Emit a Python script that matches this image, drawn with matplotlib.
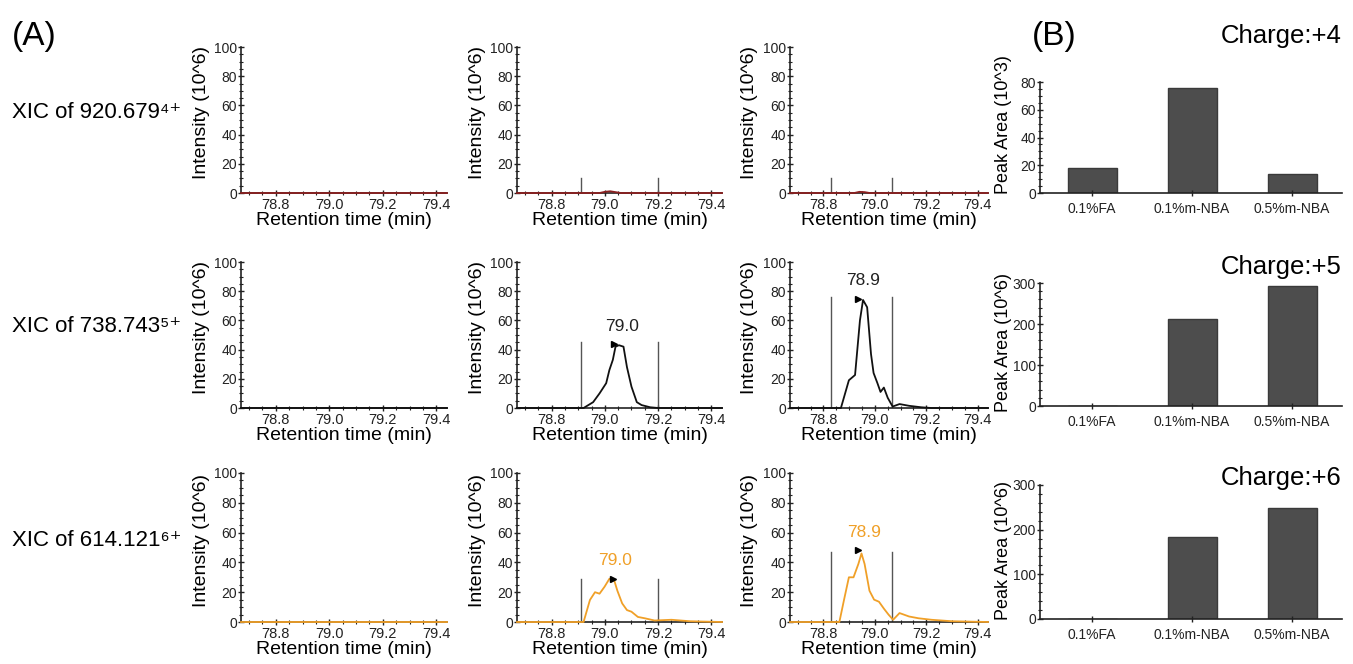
import matplotlib
matplotlib.use('Agg')
import matplotlib.pyplot as plt
from matplotlib.ticker import MultipleLocator

plt.rcParams['font.family'] = ['Liberation Sans', 'DejaVu Sans']

# ---- data ----
row_labels = ['XIC of 920.679⁴⁺', 'XIC of 738.743⁵⁺', 'XIC of 614.121⁶⁺']
rt_range = [78.67, 79.44]

# charge +4 : nothing detected
t_4_fa = [78.67, 79.44]
i_4_fa = [0, 0]
t_4_01 = [78.67, 78.98, 79.00, 79.02, 79.04, 79.06, 79.44]
i_4_01 = [0, 0, 0.8, 1.2, 0.6, 0, 0]
t_4_05 = [78.67, 78.92, 78.94, 78.96, 78.98, 79.44]
i_4_05 = [0, 0, 0.8, 0.6, 0, 0]

# charge +5
t_5_fa = [78.67, 79.44]
i_5_fa = [0, 0]
t_5_01 = [78.67, 78.92, 78.956, 78.98, 79.005, 79.017, 79.03, 79.04, 79.053, 79.07,
          79.083, 79.10, 79.12, 79.138, 79.17, 79.20, 79.44]
i_5_01 = [0, 0, 4, 10, 17, 26, 33, 42, 43, 42, 28, 14.6, 4, 2, 0.5, 0, 0]
t_5_05 = [78.67, 78.868, 78.899, 78.923, 78.942, 78.954, 78.97, 78.985, 78.995, 79.01,
          79.022, 79.035, 79.05, 79.069, 79.096, 79.133, 79.18, 79.22, 79.44]
i_5_05 = [0, 0, 19, 22.6, 60, 74, 69, 37, 24, 17, 11, 14, 7, 1, 2.7, 1.5, 0.5, 0, 0]

# charge +6
t_6_fa = [78.67, 79.44]
i_6_fa = [0, 0]
t_6_01 = [78.67, 78.92, 78.944, 78.963, 78.98, 78.999, 79.017, 79.035, 79.047, 79.065,
          79.083, 79.10, 79.124, 79.15, 79.187, 79.25, 79.32, 79.44]
i_6_01 = [0, 0, 14.8, 20, 19, 23.7, 29, 28, 21, 12.5, 8, 6.9, 3.4, 2.5, 1, 1.5, 0.5, 0]
t_6_05 = [78.67, 78.862, 78.88, 78.899, 78.917, 78.936, 78.948, 78.96, 78.979, 78.997,
          79.016, 79.035, 79.053, 79.071, 79.096, 79.133, 79.17, 79.22, 79.30, 79.44]
i_6_05 = [0, 0, 14.8, 30, 30, 39, 46, 39, 21, 15, 13.6, 9, 5, 1.5, 6, 3.7, 2.5, 1.5, 0.5, 0]

# integration boundaries (start, end, drawn height)
bounds = [
    [None, (78.91, 79.20, 10), (78.83, 79.065, 10)],
    [None, (78.91, 79.20, 45), (78.83, 79.065, 76)],
    [None, (78.91, 79.20, 29), (78.83, 79.066, 47)],
]
# apex labels (text, text x, text y, apex x, apex y)
apex = [
    [None, None, None],
    [None, ('79.0', 79.065, 51, 79.035, 44), ('78.9', 78.955, 82, 78.935, 75)],
    [None, ('79.0', 79.04, 36, 79.03, 29), ('78.9', 78.957, 55, 78.935, 48)],
]

traces = [
    [(t_4_fa, i_4_fa), (t_4_01, i_4_01), (t_4_05, i_4_05)],
    [(t_5_fa, i_5_fa), (t_5_01, i_5_01), (t_5_05, i_5_05)],
    [(t_6_fa, i_6_fa), (t_6_01, i_6_01), (t_6_05, i_6_05)],
]
trace_colors = ['#8b2020', '#111111', '#f0a028']
label_colors = ['#111111', '#222222', '#f0a028']

conditions = ['0.1%FA', '0.1%m-NBA', '0.5%m-NBA']
area_4 = [18.2, 75.5, 13.7]
area_5 = [0, 212, 293]
area_6 = [0, 184, 249]
areas = [area_4, area_5, area_6]
area_units = ['Peak Area (10^3)', 'Peak Area (10^6)', 'Peak Area (10^6)']
charge_titles = ['Charge:+4', 'Charge:+5', 'Charge:+6']
area_max = [80, 300, 300]
area_major = [20, 100, 100]
area_minor = [5, 20, 20]

# ---- layout in pixels ----
W, H = 1353, 664
row_px = [(47, 193), (262, 408), (473, 622)]
col_px = [(241, 447), (517, 722), (790, 988)]
bar_x = (1040, 1342)
bar_rows = [(82, 193), (283, 406), (485, 619)]


def px_axes(fig, x0, x1, ytop, ybot):
    return fig.add_axes([x0 / W, 1 - ybot / H, (x1 - x0) / W, (ybot - ytop) / H])


fig = plt.figure(figsize=(13.53, 6.64), dpi=100)
spine_c = '#222222'

for r in range(3):
    for c in range(3):
        ax = px_axes(fig, col_px[c][0], col_px[c][1], row_px[r][0], row_px[r][1])
        t, y = traces[r][c]
        ax.plot(t, y, color=trace_colors[r], lw=1.3, clip_on=False, zorder=3)
        b = bounds[r][c]
        if b is not None:
            for xb in b[:2]:
                ax.plot([xb, xb], [0, b[2]], color='#555555', lw=1.0, zorder=2)
        a = apex[r][c]
        if a is not None:
            ax.text(a[1], a[2], a[0], ha='center', va='bottom', fontsize=12.5,
                    color=label_colors[r])
            ax.plot(a[3], a[4], marker='>', ms=4, color='k', zorder=4)
        ax.set_xlim(rt_range)
        ax.set_ylim(0, 100)
        ax.yaxis.set_major_locator(MultipleLocator(20))
        ax.yaxis.set_minor_locator(MultipleLocator(5))
        ax.xaxis.set_minor_locator(MultipleLocator(0.05))
        ax.set_xticks([78.8, 79.0, 79.2, 79.4])
        ax.set_xticklabels(['78.8', '79.0', '79.2', '79.4'], color='#333333')
        for s in ['top', 'right']:
            ax.spines[s].set_visible(False)
        for s in ['left', 'bottom']:
            ax.spines[s].set_color(spine_c)
            ax.spines[s].set_linewidth(1.2)
        ax.tick_params(which='major', direction='inout', length=5, width=1,
                       labelsize=10.5, pad=1, colors=spine_c)
        ax.tick_params(axis='y', labelsize=10, pad=0.5)
        ax.tick_params(which='minor', direction='inout', length=3, width=0.8,
                       colors=spine_c)
        ax.set_xlabel('Retention time (min)', fontsize=14)
        ax.xaxis.set_label_coords(0.5, -0.13)
        ax.set_ylabel('Intensity (10^6)', fontsize=14, va='center')
        ax.yaxis.set_label_coords(-40 / (col_px[c][1] - col_px[c][0]), 0.55)
        ax.patch.set_alpha(0)

    fig.text(12 / W, 1 - (112 + r * 214) / H, row_labels[r], fontsize=16,
             ha='left', va='center')

for r in range(3):
    ax = px_axes(fig, bar_x[0], bar_x[1], bar_rows[r][0], bar_rows[r][1])
    ax.bar(range(len(conditions)), areas[r], width=0.49, color='#4d4d4d',
           edgecolor='#3a3a3a', lw=1)
    ax.set_xlim(-0.52, 2.5)
    ax.set_ylim(0, area_max[r])
    ax.set_xticks(range(len(conditions)))
    ax.set_xticklabels(conditions, fontsize=10)
    ax.yaxis.set_major_locator(MultipleLocator(area_major[r]))
    ax.yaxis.set_minor_locator(MultipleLocator(area_minor[r]))
    for s in ['top', 'right']:
        ax.spines[s].set_visible(False)
    for s in ['left', 'bottom']:
        ax.spines[s].set_color(spine_c)
        ax.spines[s].set_linewidth(1.2)
    ax.tick_params(which='major', direction='inout', length=5, width=1,
                   labelsize=10, pad=0.5, colors=spine_c)
    ax.tick_params(which='minor', direction='inout', length=3, width=0.8,
                   colors=spine_c)
    ax.tick_params(axis='x', pad=4)
    ax.set_ylabel(area_units[r], fontsize=13, va='center')
    ax.yaxis.set_label_coords(-37 / (bar_x[1] - bar_x[0]), [0.62, 0.52, 0.51][r])
    ax.patch.set_alpha(0)

title_y = [36, 267, 478]
for r in range(3):
    fig.text(1342 / W, 1 - title_y[r] / H, charge_titles[r], fontsize=18.5,
             ha='right', va='center')

fig.text(12 / W, 1 - 37 / H, '(A)', fontsize=24, ha='left', va='center')
fig.text(1032 / W, 1 - 36 / H, '(B)', fontsize=24, ha='left', va='center')

fig.savefig('out.png', dpi=100)
